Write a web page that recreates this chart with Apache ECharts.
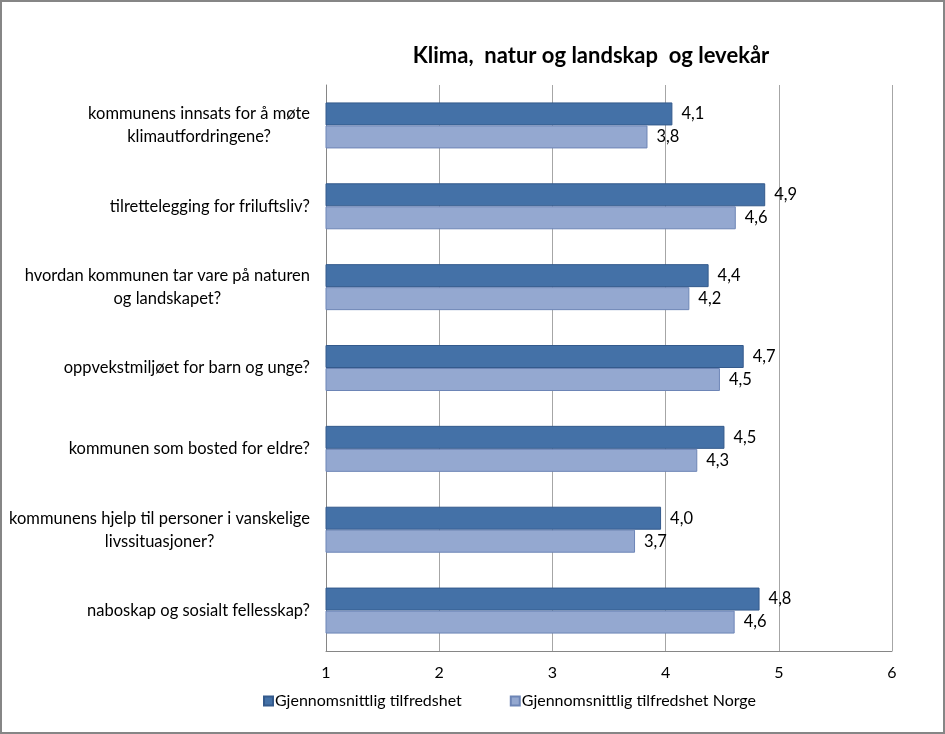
<!DOCTYPE html>
<html>
<head>
<meta charset="utf-8">
<script src="https://cdn.jsdelivr.net/npm/echarts@6/dist/echarts.min.js"></script>
<style>
html,body{margin:0;padding:0;background:#fff;}
#chart{width:945px;height:734px;}
</style>
</head>
<body>
<div id="chart"></div>
<script>
const titleText = 'Klima,  natur og landskap  og levekår';
const categories = [
  'kommunens innsats for å møte\nklimautfordringene?',
  'tilrettelegging for friluftsliv?',
  'hvordan kommunen tar vare på naturen\nog landskapet?',
  'oppvekstmiljøet for barn og unge?',
  'kommunen som bosted for eldre?',
  'kommunens hjelp til personer i vanskelige\nlivssituasjoner?',
  'naboskap og sosialt fellesskap?'
];
const seriesNames = ['Gjennomsnittlig tilfredshet', 'Gjennomsnittlig tilfredshet Norge'];
const valuesLocal = [4.06, 4.88, 4.38, 4.69, 4.52, 3.96, 4.83];
const valuesNorway = [3.84, 4.62, 4.21, 4.48, 4.28, 3.73, 4.61];
const xTicks = [1, 2, 3, 4, 5, 6];

const FONT = 'Lato';
const chart = echarts.init(document.getElementById('chart'));
const fmt = p => p.value.toFixed(1).replace('.', ',');
chart.setOption({
  backgroundColor: '#fff',
  animation: false,
  title: {
    text: titleText, left: 586, top: 40, textAlign: 'center',
    textStyle: {fontFamily: FONT, fontSize: 22, fontWeight: 'bold', color: '#000'}
  },
  graphic: [{
    type: 'rect', shape: {x: 1, y: 1, width: 943, height: 732},
    style: {fill: 'none', stroke: '#868686', lineWidth: 2}, silent: true, z: 100
  }],
  legend: {
    bottom: 20, left: 258, itemGap: 48, itemWidth: 9, itemHeight: 9, icon: 'rect',
    textStyle: {fontFamily: FONT, fontSize: 16, color: '#000', padding: [0, 0, 0, -3]},
    data: seriesNames
  },
  grid: {left: 326, right: 53, top: 85, bottom: 83},
  xAxis: {
    type: 'value', min: xTicks[0], max: xTicks[xTicks.length - 1], interval: 1,
    axisLine: {show: true, lineStyle: {color: '#868686'}},
    axisTick: {show: false},
    splitLine: {show: true, lineStyle: {color: '#a6a6a6', width: 1}},
    axisLabel: {fontFamily: FONT, fontSize: 16, color: '#000', margin: 14}
  },
  yAxis: {
    type: 'category', data: categories, inverse: true,
    axisLine: {show: true, lineStyle: {color: '#868686'}},
    axisTick: {show: false},
    axisLabel: {
      margin: 16, color: '#000', fontFamily: FONT, fontSize: 16.5, lineHeight: 23,
      formatter: v => v.split('\n').map(s => '{c|' + s + '}').join('\n'),
      rich: {c: {align: 'center', fontFamily: FONT, fontSize: 16.5, lineHeight: 23, color: '#000'}}
    }
  },
  series: [
    {
      name: seriesNames[0], type: 'bar', data: valuesLocal, barWidth: 23, barGap: '0%',
      itemStyle: {color: '#4471a7', borderColor: '#345a8c', borderWidth: 1},
      label: {show: true, position: 'right', distance: 9, formatter: fmt,
        fontFamily: FONT, fontSize: 16.5, color: '#000'}
    },
    {
      name: seriesNames[1], type: 'bar', data: valuesNorway, barWidth: 23, barGap: '0%',
      itemStyle: {color: '#94a8d0', borderColor: '#6d85b6', borderWidth: 1},
      label: {show: true, position: 'right', distance: 9, formatter: fmt,
        fontFamily: FONT, fontSize: 16.5, color: '#000'}
    }
  ]
});
</script>
</body>
</html>
